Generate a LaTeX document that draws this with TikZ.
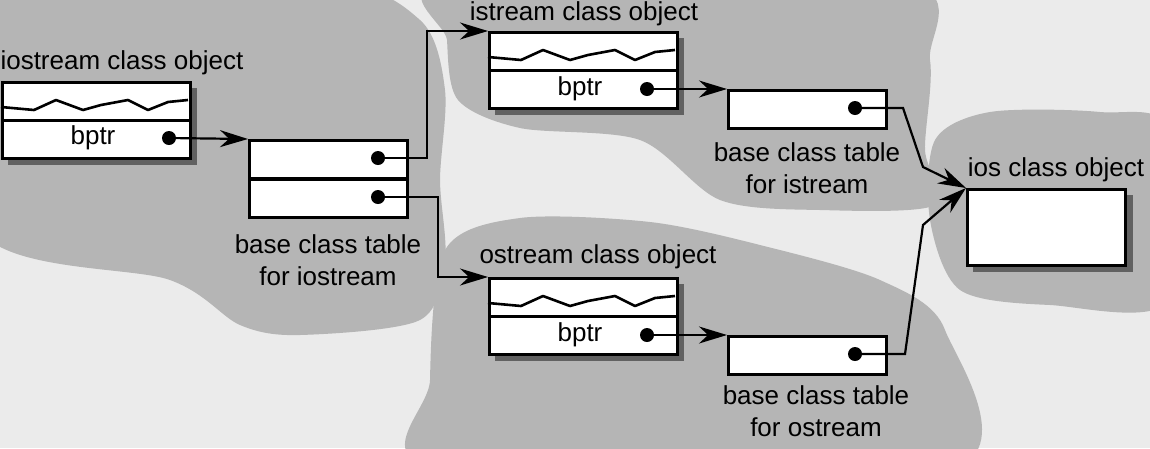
\documentclass[tikz,border=0pt]{standalone}
\usepackage{fontspec}
\setmainfont{Liberation Sans}
\usetikzlibrary{arrows.meta}
\definecolor{paper}{gray}{0.92}
\definecolor{cloudgray}{gray}{0.71}
\definecolor{boxshadow}{gray}{0.38}
\begin{document}
\begin{tikzpicture}[x=1pt,y=-1pt,
  every node/.style={font=\fontsize{26}{32}\selectfont},
  cell/.style={draw, fill=white, line width=2.8pt, anchor=north west, inner sep=0pt,
    minimum width=188pt, minimum height=38pt},
  tcell/.style={cell, minimum width=158pt},
  shadowbox/.style={fill=boxshadow},
  dot/.style={circle, fill=black, inner sep=0pt, minimum size=14pt},
  ptr/.style={line width=2.2pt, -{Stealth[length=28pt,width=17pt]}},
  caption/.style={align=center},
  wave/.style={line width=2.6pt, line join=round}]
\useasboundingbox (0,0) rectangle (1150,448);
\fill[paper] (0,0) rectangle (1150,448);
% background clouds
\fill[cloudgray] plot[smooth cycle] coordinates {(-20,-20) (320,-20) (420,20) (445,90) (440,180) (445,260) (420,320) (300,335) (240,325) (170,280) (-20,230)};
\fill[cloudgray] plot[smooth cycle] coordinates {(450,-20) (900,-20) (930,60) (925,150) (935,205) (820,210) (720,200) (640,140) (520,128) (458,100) (447,40)};
\fill[cloudgray] plot[smooth cycle] coordinates {(445,250) (520,218) (650,222) (760,245) (880,280) (945,330) (950,470) (440,470) (430,380)};
\fill[cloudgray] plot[smooth cycle] coordinates {(935,140) (990,112) (1100,112) (1170,130) (1170,300) (1050,305) (960,290) (930,220)};
% shadows
\fill[shadowbox] (8,88) rectangle (197,165);
\fill[shadowbox] (495,38) rectangle (684,115);
\fill[shadowbox] (495,284) rectangle (684,361);
\fill[shadowbox] (973,195) rectangle (1133,272);
% class objects
\node[cell] (io1) at (1,81) {};
\node[cell] (io2) at (1,119) {};
\node[cell] (is1) at (488,31) {};
\node[cell] (is2) at (488,69) {};
\node[cell] (os1) at (488,277) {};
\node[cell] (os2) at (488,315) {};
\node[tcell, minimum height=76pt] (ios) at (966,188) {};
\foreach \c in {io1,is1,os1}
  \draw[wave, shift={(\c.north west)}] (0,26) -- (33,29) -- (55,19) -- (82,29) -- (100,24)
    -- (127,19) -- (147,29) -- (167,21) -- (187,19);
\node (iobp) at (93,138) {bptr};
\node (isbp) at (580,89) {bptr};
\node (osbp) at (580,335) {bptr};
% base class tables
\node[tcell] (iot1) at (248,139) {};
\node[tcell] (iot2) at (248,178) {};
\node[tcell] (ist) at (727,89) {};
\node[tcell] (ost) at (727,335) {};
% pointers
\node[dot] (iod) at (169,138) {};
\node[dot] (isd) at (647,89) {};
\node[dot] (osd) at (647,335) {};
\node[dot] (iotd1) at (378,158) {};
\node[dot] (iotd2) at (378,197) {};
\node[dot] (istd) at (855,108) {};
\node[dot] (ostd) at (855,354) {};
\draw[ptr] (iod.center) -- (iot1.north west);
\draw[ptr] (iotd1.center) -- ++(49,0) |- (is1.north west);
\draw[ptr] (iotd2.center) -- ++(60,0) |- (os1.north west);
\draw[ptr] (isd.center) -- (ist.north west);
\draw[ptr] (osd.center) -- (ost.north west);
\draw[ptr] (istd.center) -- ++(48,0) -- ++(20,59) -- (ios.north west);
\draw[ptr] (ostd.center) -- ++(50,0) -- ++(18,-129) -- (ios.north west);
% labels
\node[anchor=west] (iotitle) at (-3,63) {iostream class object};
\node (istitle) at (584,14) {istream class object};
\node (ostitle) at (598,257) {ostream class object};
\node (iostitle) at (1056,170) {ios class object};
\node[caption] (iocap) at (328,260) {base class table\\for iostream};
\node[caption] (iscap) at (807,168) {base class table\\for istream};
\node[caption] (oscap) at (816,411) {base class table\\for ostream};
\end{tikzpicture}
\end{document}
